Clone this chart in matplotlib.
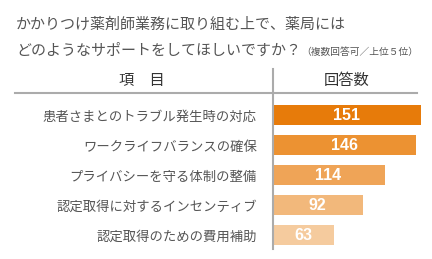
import matplotlib

matplotlib.use("Agg")

import matplotlib.pyplot as plt
from matplotlib.lines import Line2D

plt.rcParams["font.family"] = ["Noto Sans CJK JP", "DejaVu Sans"]

# 回答データ（上位5位）
items = [
    "患者さまとのトラブル発生時の対応",
    "ワークライフバランスの確保",
    "プライバシーを守る体制の整備",
    "認定取得に対するインセンティブ",
    "認定取得のための費用補助",
]
counts = [151, 146, 114, 92, 63]
bar_colors = ["#E77B0A", "#EC9232", "#EFA457", "#F2B87B", "#F5CB9E"]

title_line1 = "かかりつけ薬剤師業務に取り組む上で、薬局には"
title_line2 = "どのようなサポートをしてほしいですか？"
subtitle = "（複数回答可／上位５位）"
header_item = "項　目"
header_count = "回答数"

W, H = 432, 259
fig = plt.figure(figsize=(W / 100, H / 100), dpi=100)
fig.patch.set_facecolor("white")


def fx(px):
    return px / W


def fy(py):
    return 1 - py / H


ax = fig.add_axes([fx(272), fy(250), fx(160), 150 / H])
positions = list(range(len(items)))
ax.barh(positions, counts, height=0.67, color=bar_colors, left=0)
ax.set_xlim(0, 162)
ax.set_ylim(len(items) - 0.5, -0.5)
ax.set_yticks(positions)
ax.set_yticklabels(items, fontsize=9.6, color="#555555")
ax.tick_params(axis="y", length=0, pad=11)
ax.set_xticks([])
for side in ax.spines.values():
    side.set_visible(False)
ax.patch.set_alpha(0)

for pos, value in zip(positions, counts):
    ax.text(value / 2, pos, str(value), ha="center", va="center",
            color="white", fontsize=11.5, fontweight="bold",
            family=["Liberation Sans", "DejaVu Sans"])

# 区切り線
fig.add_artist(Line2D([fx(15), fx(417)], [fy(93), fy(93)],
                      color="#ABABAB", linewidth=1.5))
fig.add_artist(Line2D([fx(272.5), fx(272.5)], [fy(69), fy(249)],
                      color="#ABABAB", linewidth=1.5))

# 見出し
fig.text(fx(142), fy(81), header_item, ha="center", va="center",
         fontsize=11, color="#333333")
fig.text(fx(347), fy(81), header_count, ha="center", va="center",
         fontsize=11, color="#333333")

# タイトル
fig.text(fx(16), fy(25), title_line1, ha="left", va="center",
         fontsize=10.8, color="#555555")
line2 = fig.text(fx(16), fy(55), title_line2, ha="left", va="baseline",
                 fontsize=10.8, color="#555555")
fig.canvas.draw()
ext = line2.get_window_extent()
fig.text(ext.x1 / W, fy(55), subtitle, ha="left", va="baseline",
         fontsize=7, color="#555555")

fig.savefig("out.png", dpi=100)
